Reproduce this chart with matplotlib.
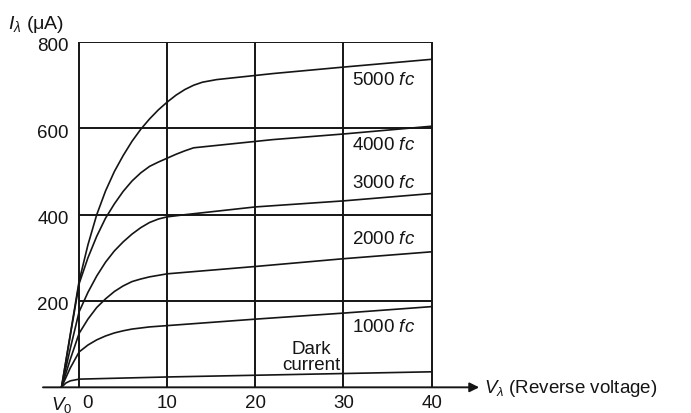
import numpy as np
import matplotlib.pyplot as plt
import matplotlib.transforms as mtransforms

plt.rcParams['font.family'] = ['Liberation Sans', 'DejaVu Sans']
plt.rcParams['mathtext.fontset'] = 'custom'
plt.rcParams['mathtext.rm'] = 'Liberation Sans'
plt.rcParams['mathtext.it'] = 'Liberation Sans:italic'

# curves: reverse voltage (V) and current (uA)
v_dark = [-2, -1.5, -1, 0, 10, 20, 30, 40]
i_dark = [0, 10, 15, 19, 24, 28, 32, 36]

v_1000 = [-2, -1, 0, 1, 2, 3, 4, 5, 6, 8, 10, 20, 30, 40]
i_1000 = [0, 45, 82, 98, 110, 119, 126, 131, 135, 140, 143, 158, 172, 187]

v_2000 = [-2, -1, 0, 1, 2, 3, 4, 5, 6, 7, 8, 10, 20, 30, 40]
i_2000 = [0, 65, 125, 158, 185, 205, 222, 235, 245, 251, 256, 263, 280, 298, 314]

v_3000 = [-2, -1, 0, 1, 2, 3, 4, 5, 6, 7, 8, 9, 10, 12, 20, 30, 40]
i_3000 = [0, 90, 175, 220, 258, 290, 316, 337, 355, 370, 382, 390, 395, 400, 418, 432, 449]

v_4000 = [-2, 0, 1, 2, 3, 4, 5, 6, 7, 8, 9, 10, 11, 12, 13, 22, 30, 40]
i_4000 = [0, 240, 300, 350, 392, 425, 454, 478, 497, 512, 522, 531, 540, 548, 555, 574, 587, 605]

v_5000 = [-2, 0, 1, 2, 3, 4, 5, 6, 7, 8, 9, 10, 11, 12, 13, 14, 15.6, 22, 30, 40]
i_5000 = [0, 246, 330, 400, 455, 500, 537, 570, 598, 622, 643, 661, 677, 690, 700, 707, 713, 727, 742, 760]

curve_labels = ['Dark\ncurrent', '1000 $fc$', '2000 $fc$', '3000 $fc$', '4000 $fc$', '5000 $fc$']
label_x = [26.4, 34.6, 34.6, 34.6, 34.6, 34.6]
label_y = [72, 142, 344, 474, 563, 714]

x_ticks = [-2, 0, 10, 20, 30, 40]
x_ticklabels = ['$V_0$', '0', '10', '20', '30', '40']
y_ticks = [200, 400, 600, 800]

ink = '#151515'

fig = plt.figure(figsize=(6.91, 4.14), dpi=100)
ax = fig.add_axes([0.0622, 0.062, 0.6325, 0.834])
ax.set_xlim(-4.1, 45.5)
ax.set_ylim(0, 800)
for s in ax.spines.values():
    s.set_visible(False)

# grid box
ax.vlines([0, 10, 20, 30, 40], 0, 800, color=ink, lw=1.4)
ax.hlines(y_ticks, 0, 40, color=ink, lw=1.4)

# x axis with arrow
ax.annotate('', xy=(45.4, 0), xytext=(-4.1, 0),
            arrowprops=dict(arrowstyle='-|>', color=ink, lw=1.4,
                            mutation_scale=14, shrinkA=0, shrinkB=0),
            annotation_clip=False)

for v, i in [(v_dark, i_dark), (v_1000, i_1000), (v_2000, i_2000),
             (v_3000, i_3000), (v_4000, i_4000), (v_5000, i_5000)]:
    ax.plot(v, i, color=ink, lw=1.2, solid_joinstyle='round')

for txt, x, y in zip(curve_labels, label_x, label_y):
    ax.text(x, y, txt, fontsize=13.5, ha='center', va='center',
            color=ink, linespacing=0.95)

ax.set_xticks(x_ticks)
ax.set_xticklabels(x_ticklabels, fontsize=13.5, color=ink)
ax.set_yticks([])
ax.tick_params(length=0, pad=5)
# nudge "0" right so it clears V0
lbl0 = ax.get_xticklabels()[1]
lbl0.set_transform(lbl0.get_transform() +
                   mtransforms.ScaledTranslation(0.08, 0, fig.dpi_scale_trans))

# y tick labels sit just left of the 0 V line
for t in y_ticks:
    ax.text(-1.15, t - 9, str(t), fontsize=13.5, ha='right', va='center',
            color=ink)

ax.text(45.9, 0, r'$V_{\lambda}$ (Reverse voltage)', fontsize=13.5,
        ha='left', va='center', color=ink, clip_on=False)
fig.text(0.012, 0.942, r'$I_{\lambda}$ ($\mathrm{\mu}$A)', fontsize=14,
         ha='left', va='center', color=ink)

fig.savefig('out.png', dpi=100)
